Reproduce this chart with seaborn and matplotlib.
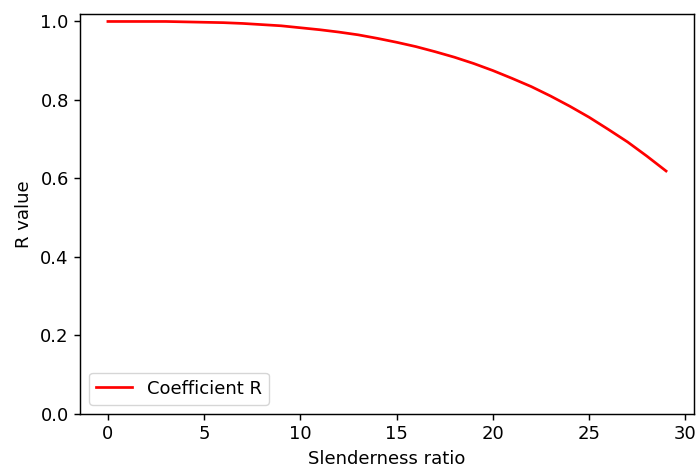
import matplotlib
matplotlib.use("Agg")
import matplotlib.pyplot as plt
import seaborn as sns
import pandas as pd

# Slenderness ratio and the corresponding reduction coefficient R
slenderness = list(range(0, 30))
r_value = [1.000, 1.000, 1.000, 1.000, 0.999, 0.998, 0.997, 0.995, 0.992, 0.989,
           0.984, 0.979, 0.973, 0.966, 0.957, 0.947, 0.936, 0.923, 0.909, 0.893,
           0.875, 0.855, 0.834, 0.810, 0.784, 0.756, 0.725, 0.693, 0.657, 0.619]

df = pd.DataFrame({"Slenderness ratio": slenderness, "R value": r_value})

scale = 1.3
plt.rcParams.update({
    "font.family": "DejaVu Sans",
    "font.size": 10 * scale,
    "lines.linewidth": 1.5 * scale,
    "axes.linewidth": 0.8 * scale,
    "xtick.major.size": 3.5 * scale,
    "ytick.major.size": 3.5 * scale,
    "xtick.major.width": 0.8 * scale,
    "ytick.major.width": 0.8 * scale,
    "axes.labelpad": 4.0 * scale,
})

fig = plt.figure(figsize=(6.99, 4.68), dpi=100)
ax = fig.add_axes([80 / 699, 54 / 468, 614 / 699, 400 / 468])

sns.lineplot(data=df, x="Slenderness ratio", y="R value", color="red",
             label="Coefficient R", ax=ax)
ax.set_ylim(bottom=0)
ax.legend(loc="lower left")

fig.savefig("out.png", dpi=100)
